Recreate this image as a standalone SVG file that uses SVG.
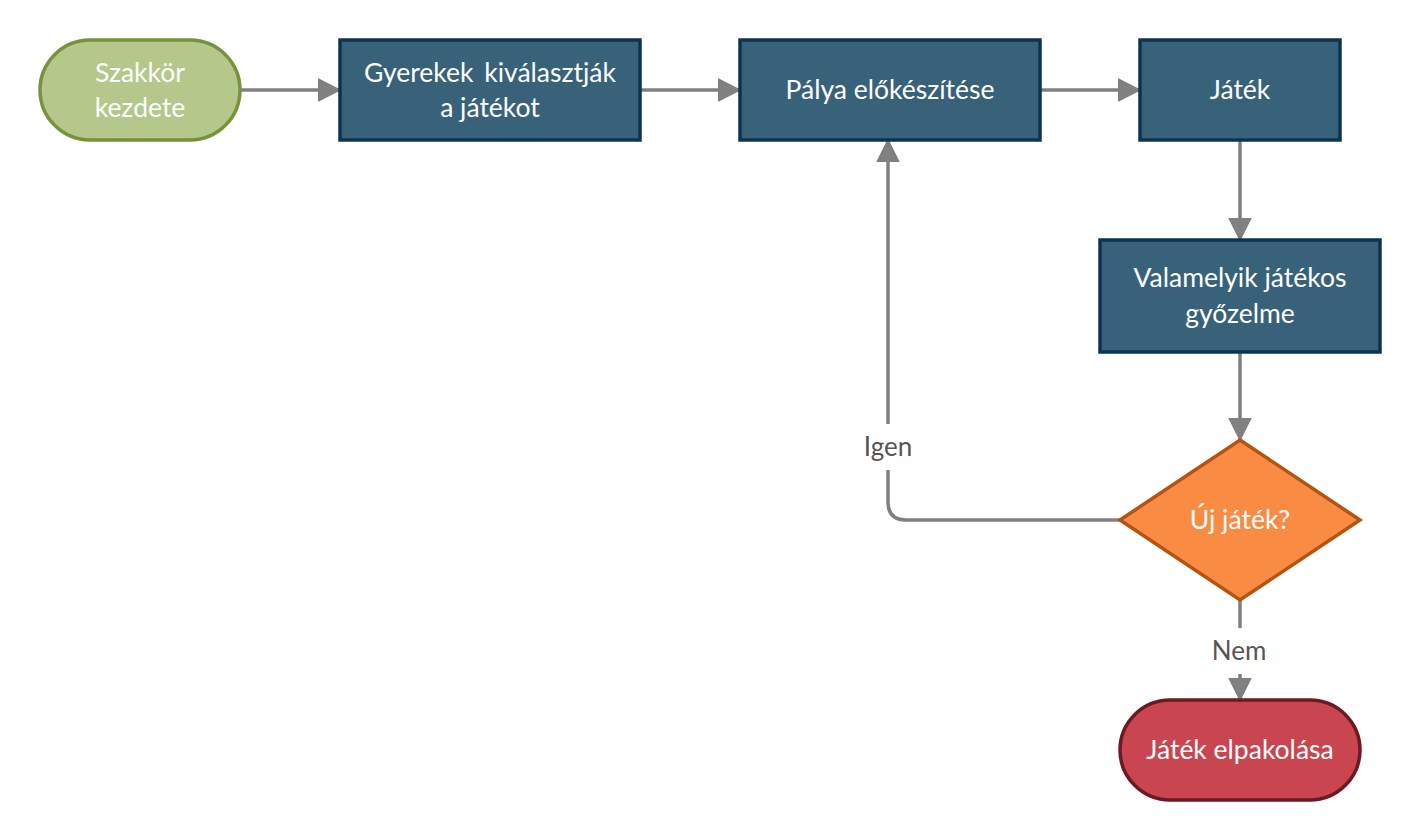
<svg xmlns="http://www.w3.org/2000/svg" width="1420" height="840" viewBox="0 0 1420 840">
<defs>
<marker id="ah" viewBox="0 0 22 24" refX="22" refY="12" markerWidth="22" markerHeight="24" markerUnits="userSpaceOnUse" orient="auto">
<path d="M0,1 L22,12 L0,23 Z" fill="#808080" stroke="#808080" stroke-width="1.5" stroke-linejoin="round"/>
</marker>
</defs>
<style>
.t{font-family:Lato,"Open Sans",sans-serif;font-size:26.5px;fill:#ffffff;text-anchor:middle}
.l{font-family:Lato,"Open Sans",sans-serif;font-size:26px;fill:#555555;text-anchor:middle}
.c{fill:none;stroke:#808080;stroke-width:3.5}
.blue{fill:#38627a;stroke:#0c3350;stroke-width:3.5}
</style>
<rect width="1420" height="840" fill="#ffffff"/>
<g id="connectors">
<path class="c" d="M240,90 L340,90" marker-end="url(#ah)"/>
<path class="c" d="M640,90 L740,90" marker-end="url(#ah)"/>
<path class="c" d="M1040,90 L1140,90" marker-end="url(#ah)"/>
<path class="c" d="M1240,140 L1240,240" marker-end="url(#ah)"/>
<path class="c" d="M1240,352 L1240,440" marker-end="url(#ah)"/>
<path class="c" d="M1120,520 L906,520 Q888,520 888,502 L888,470"/>
<path class="c" d="M888,424 L888,140" marker-end="url(#ah)"/>
<path class="c" d="M1240,600 L1240,628"/>
<path class="c" d="M1240,674 L1240,700" marker-end="url(#ah)"/>
<text class="l" x="888" y="456">Igen</text>
<text class="l" x="1239" y="660">Nem</text>
</g>
<g id="start">
<rect x="40" y="40" width="200" height="100" rx="50" fill="#b3c88a" stroke="#76923a" stroke-width="3.5"/>
<text class="t" x="140" y="82">Szakkör</text>
<text class="t" x="140" y="117">kezdete</text>
</g>
<g id="choose">
<rect class="blue" x="340" y="40" width="300" height="100"/>
<text class="t" x="490" y="82" word-spacing="4">Gyerekek kiválasztják</text>
<text class="t" x="490" y="117">a játékot</text>
</g>
<g id="prepare">
<rect class="blue" x="740" y="40" width="300" height="100"/>
<text class="t" x="890" y="99">Pálya előkészítése</text>
</g>
<g id="game">
<rect class="blue" x="1140" y="40" width="200" height="100"/>
<text class="t" x="1240" y="99">Játék</text>
</g>
<g id="win">
<rect class="blue" x="1100" y="240" width="280" height="112"/>
<text class="t" x="1240" y="287">Valamelyik játékos</text>
<text class="t" x="1240" y="323">győzelme</text>
</g>
<g id="decision">
<polygon points="1240,440 1360,520 1240,600 1120,520" fill="#f98b43" stroke="#b45314" stroke-width="3.5"/>
<text class="t" x="1240" y="529">Új játék?</text>
</g>
<g id="end">
<rect x="1120" y="700" width="240" height="100" rx="50" fill="#c9454f" stroke="#6b1a1f" stroke-width="3.5"/>
<text class="t" x="1240" y="759">Játék elpakolása</text>
</g>
</svg>
